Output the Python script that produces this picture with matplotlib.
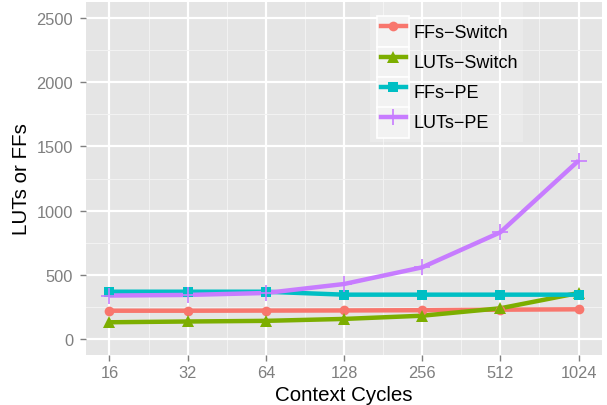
import matplotlib
matplotlib.use("Agg")
import matplotlib.pyplot as plt
from matplotlib.lines import Line2D
from matplotlib.patches import Rectangle
from matplotlib.ticker import MultipleLocator

plt.rcParams["font.family"] = ["Liberation Sans", "DejaVu Sans"]

# data
cycles = ["16", "32", "64", "128", "256", "512", "1024"]
ffs_switch = [220, 220, 221, 222, 224, 228, 231]
luts_switch = [130, 136, 141, 156, 181, 239, 358]
ffs_pe = [368, 368, 368, 345, 345, 345, 345]
luts_pe = [338, 343, 358, 428, 558, 831, 1389]
labels = ["FFs\u2212Switch", "LUTs\u2212Switch", "FFs\u2212PE", "LUTs\u2212PE"]

colors = ["#F8766D", "#7CAE00", "#00BFC4", "#C77CFF"]
markers = ["o", "^", "s", "+"]
msizes = [7, 9, 7.5, 11]

W, H = 607, 406
fig = plt.figure(figsize=(W / 100, H / 100), dpi=100)
ax = fig.add_axes([86 / W, 1 - 356 / H, (602 - 86) / W, (356 - 3) / H])
ax.set_facecolor("#E5E5E5")
for s in ax.spines.values():
    s.set_visible(False)

x = list(range(len(cycles)))
values = [ffs_switch, luts_switch, ffs_pe, luts_pe]

# lines first, then points (ggplot layer order)
for v, c in zip(values, colors):
    ax.plot(x, v, color=c, lw=3.2, zorder=3, solid_capstyle="butt")
for v, c, m, ms in zip(values, colors, markers, msizes):
    ax.plot(x, v, ls="none", marker=m, ms=ms, color=c,
            mew=1.2 if m == "+" else 0, zorder=4)

ax.set_xlim(-0.3, 6.3)
ax.set_ylim(-125, 2625)
ax.set_xticks(x)
ax.set_xticklabels(cycles)
ax.yaxis.set_major_locator(MultipleLocator(500))
ax.yaxis.set_minor_locator(MultipleLocator(250))
ax.xaxis.set_minor_locator(MultipleLocator(0.5))
ax.grid(which="major", color="white", lw=1.6, zorder=1)
ax.grid(which="minor", color="#F2F2F2", lw=0.8, zorder=1)
ax.set_axisbelow(True)
ax.tick_params(which="major", length=4.5, width=1, color="#7F7F7F",
               labelcolor="#7F7F7F", labelsize=11.8)
ax.tick_params(axis="x", pad=3)
ax.tick_params(axis="y", pad=4.7)
ax.tick_params(which="minor", length=0)

ax.set_xlabel("Context Cycles", fontsize=14.8, labelpad=3)
ax.set_ylabel("LUTs or FFs", fontsize=14.8, labelpad=4)

# legend background and key boxes
fig.patches.append(Rectangle((370 / W, 1 - 143 / H), (523 - 370) / W, (143 - 3) / H,
                             transform=fig.transFigure, facecolor="white",
                             alpha=0.2, edgecolor="none", zorder=2))
pitch = 30.5
for i in range(4):
    top = 17 + i * pitch
    fig.patches.append(Rectangle((377 / W, 1 - (top + pitch) / H), 32 / W, pitch / H,
                                 transform=fig.transFigure, facecolor="#F2F2F2",
                                 edgecolor="white", lw=1.2, zorder=2))

handles = [Line2D([], [], color=c, lw=3.2, marker=m, ms=ms,
                  mew=1.2 if m == "+" else 0)
           for c, m, ms in zip(colors, markers, msizes)]
leg = fig.legend(handles, labels, loc="upper left",
                 bbox_to_anchor=(380.5 / W, 1 - 17 / H), bbox_transform=fig.transFigure,
                 frameon=False, fontsize=13, handlelength=1.4, handleheight=2.2,
                 labelspacing=0, handletextpad=0.42, borderpad=0, borderaxespad=0)
leg.set_zorder(5)

fig.savefig("out.png", dpi=100)
